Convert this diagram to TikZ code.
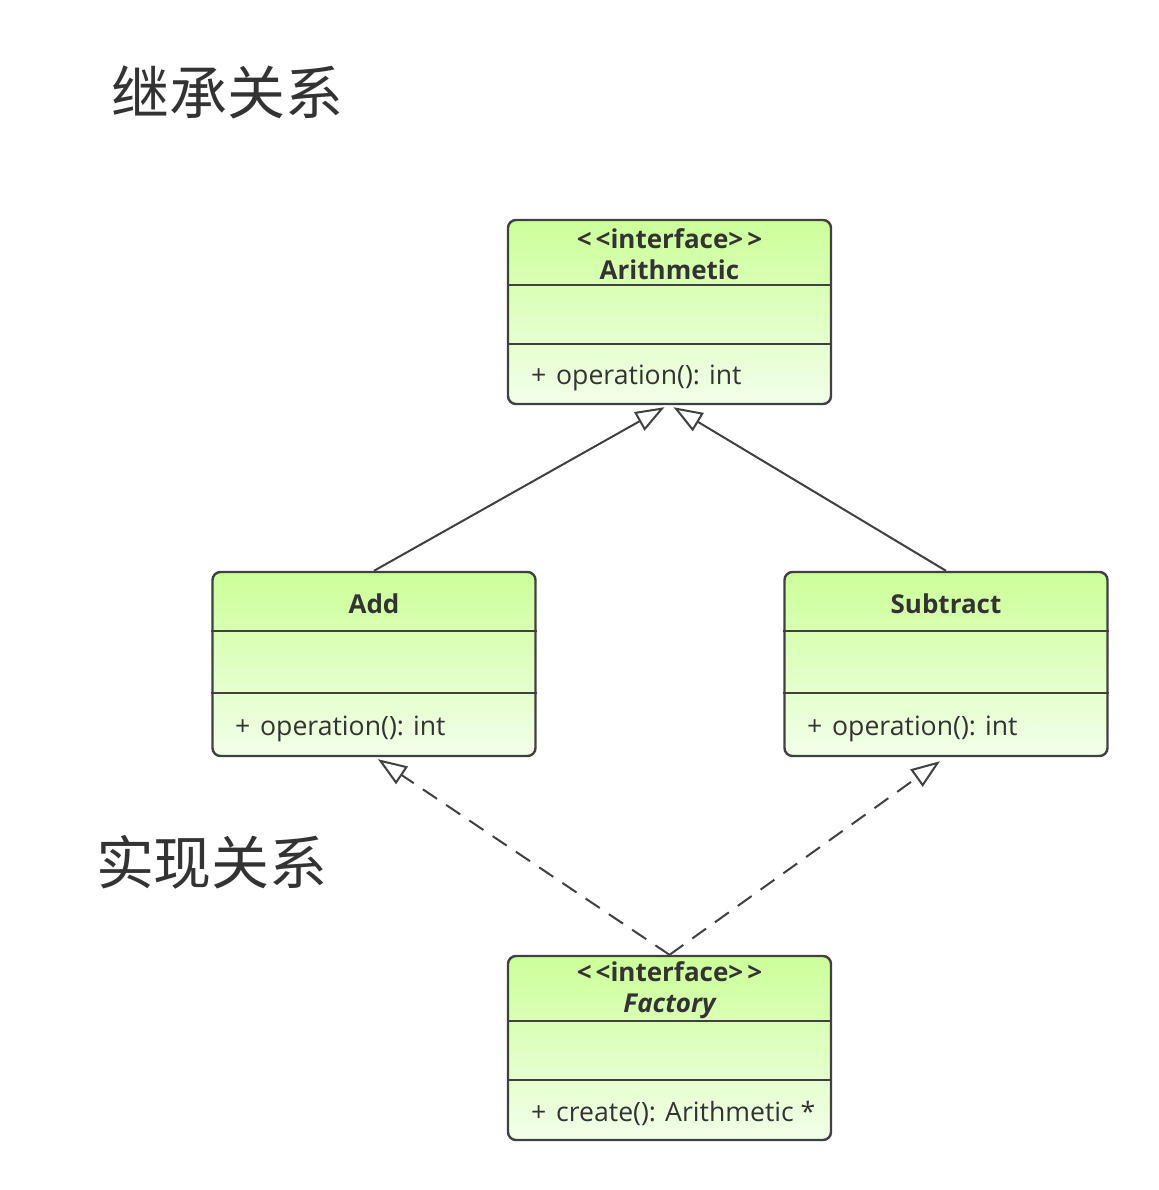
\documentclass[tikz,border=0pt]{standalone}
\usepackage{fontspec}
\setmainfont{Open Sans}
\newfontfamily\cjk{Noto Sans CJK SC}
\usetikzlibrary{arrows.meta}
\definecolor{umltop}{HTML}{CCFF99}
\definecolor{umlbot}{HTML}{F2FFE9}
\definecolor{umlline}{HTML}{404040}
\definecolor{umltext}{HTML}{333333}

\begin{document}
\begin{tikzpicture}[x=0.5pt,y=-0.5pt,
        umlbox/.style={draw=umlline,line width=1.2pt,rounded corners=4pt,
            top color=umltop,bottom color=umlbot,
            minimum width=161.5pt,minimum height=92pt,inner sep=0pt},
        cname/.style={text=umltext,align=center,font=\fontsize{13}{15.5}\selectfont\bfseries},
        cmeth/.style={text=umltext,anchor=west,font=\fontsize{13.3}{15.5}\selectfont},
        ctitle/.style={text=umltext,font=\fontsize{29}{34}\selectfont\cjk},
        inherit/.style={draw=umlline,line width=1pt,-{Triangle[open,length=14.5pt,width=10.5pt,fill=white]}},
        realize/.style={inherit,dash pattern=on 8.5pt off 5.5pt}]
        \useasboundingbox (0,0) rectangle (1158,1190);
        % titles
        \node[ctitle] (inh) at (228,92) {继承关系};
        \node[ctitle] (real) at (212,862) {实现关系};
        % classes
        \node[umlbox] (arith) at (669.5,312) {};
        \node[umlbox] (add) at (374,664) {};
        \node[umlbox] (sub) at (946,664) {};
        \node[umlbox] (fac) at (669.5,1048) {};
        \foreach \c/\a/\b in {arith/33/62.5, add/30/61, sub/30/61, fac/33/62.5} {
            \draw[umlline,line width=1.2pt] ([yshift=-\a pt]\c.north west) -- ([yshift=-\a pt]\c.north east);
            \draw[umlline,line width=1.2pt] ([yshift=-\b pt]\c.north west) -- ([yshift=-\b pt]\c.north east);
        }
        \node[cname] (arithname) at (669.5,254) {<\kern2pt<interface>\kern2pt>\\Arithmetic};
        \node[cmeth] (arithop) at (524,378) {+\kern1.5pt{} operation(): int};
        \node[cname] (addname) at (374,604) {Add};
        \node[cmeth] (addop) at (228,729) {+\kern1.5pt{} operation(): int};
        \node[cname] (subname) at (946,604) {Subtract};
        \node[cmeth] (subop) at (800,729) {+\kern1.5pt{} operation(): int};
        \node[cname] (facname) at (669.5,990) {<\kern2pt<interface>\kern2pt>\\\itshape Factory};
        \node[cmeth] (facop) at (524,1113) {+\kern1.5pt{} create(): Arithmetic *};
        % connectors
        \draw[inherit] (add.north) -- ([xshift=-2.5pt,yshift=-1pt]arith.south);
        \draw[inherit] (sub.north) -- ([xshift=2pt,yshift=-1pt]arith.south);
        \draw[realize] (fac.north) -- ([xshift=2pt,yshift=-1pt]add.south);
        \draw[realize] (fac.north) -- ([xshift=-3pt,yshift=-2pt]sub.south);
    \end{tikzpicture}
\end{document}
